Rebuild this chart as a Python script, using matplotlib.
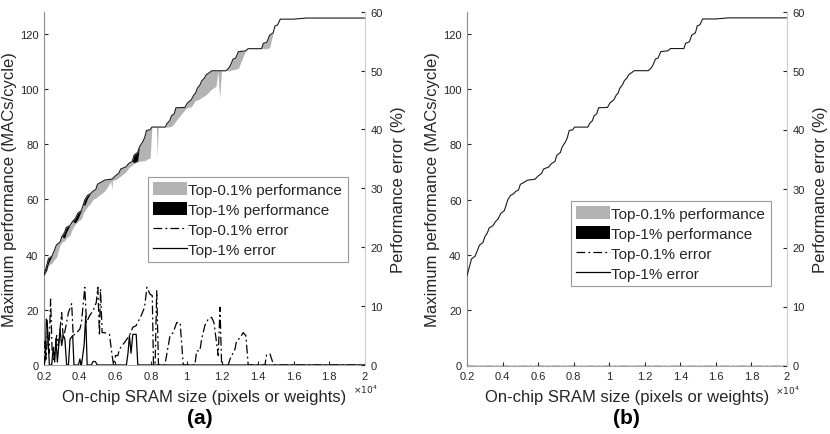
import numpy as np
import matplotlib.pyplot as plt
from matplotlib.patches import Patch
from matplotlib.lines import Line2D
from matplotlib.ticker import FuncFormatter

plt.rcParams['font.family'] = ['Liberation Sans', 'DejaVu Sans']
plt.rcParams['mathtext.fontset'] = 'dejavusans'

# on-chip SRAM size (pixels or weights) and best performance (MACs/cycle)
sram = [2000, 2150, 2250, 2450, 2550, 2700, 2900, 3000, 3150, 3250,
        3450, 3600, 3750, 3900, 4100, 4200, 4300, 4450, 4600, 4750,
        4900, 5000, 5200, 5400, 5750, 5800, 5850, 6000, 6200, 6300,
        6600, 6750, 6950, 7050, 7250, 7350, 7550, 7650, 7750, 7950,
        8050, 8300, 8350, 8400, 8800, 8900, 9050, 9150, 9300, 9400,
        9900, 10050, 10250, 10400, 10500, 10600, 10750, 10850, 11000, 11100,
        11250, 11400, 11650, 11750, 11850, 11950, 12200, 12350, 12450, 12600,
        12750, 12900, 13300, 13450, 14200, 14300, 14500, 14650, 14850, 14950,
        15100, 15250, 16000, 16700, 20000]
max_perf = [32.5, 36.0, 38.5, 39.5, 41.0, 43.5, 44.5, 46.5, 48.0, 49.8,
            50.5, 52.0, 53.0, 55.0, 56.0, 58.0, 60.0, 61.5, 62.0, 63.0,
            63.5, 65.5, 66.2, 67.0, 67.3, 67.3, 67.5, 68.5, 69.5, 71.0,
            71.8, 73.0, 73.8, 76.0, 77.0, 79.0, 81.0, 82.5, 85.0, 85.2,
            86.2, 86.2, 86.2, 86.2, 86.2, 87.5, 88.5, 90.3, 91.0, 93.2,
            93.3, 95.0, 96.0, 97.8, 98.5, 100.3, 101.5, 103.0, 104.0, 105.2,
            105.8, 106.6, 106.6, 106.6, 106.6, 106.6, 106.6, 107.5, 108.5, 110.8,
            111.2, 113.5, 113.8, 114.6, 114.6, 116.5, 117.0, 119.5, 120.3, 122.8,
            123.2, 125.3, 125.3, 125.7, 125.7]
# lower edge of the top-0.1% and top-1% performance bands (panel a)
top01_perf = [32.5, 34.0, 36.0, 37.0, 38.0, 39.0, 43.5, 44.5, 45.0, 46.0,
              47.0, 49.5, 51.0, 52.0, 53.0, 55.0, 56.0, 57.5, 58.5, 60.0,
              60.5, 61.0, 62.0, 63.0, 66.5, 63.5, 67.0, 67.0, 68.0, 68.5,
              70.0, 71.5, 72.5, 73.0, 73.5, 73.8, 74.0, 74.0, 74.5, 75.0,
              86.2, 86.2, 75.5, 86.2, 86.2, 86.2, 86.3, 86.5, 87.5, 88.5,
              92.5, 93.3, 93.5, 95.0, 96.0, 96.0, 96.5, 97.0, 97.5, 98.0,
              99.0, 100.0, 101.0, 106.6, 96.5, 106.6, 106.6, 106.6, 106.8, 107.0,
              107.2, 107.5, 113.8, 114.6, 114.6, 114.6, 114.6, 115.0, 120.3, 122.8,
              123.2, 125.3, 125.3, 125.7, 125.7]
top1_perf = [32.5, 34.5, 37.0, 39.5, 41.0, 43.5, 44.5, 46.5, 46.0, 48.0,
             50.5, 52.0, 51.5, 53.0, 56.0, 58.0, 58.0, 60.5, 62.0, 63.0,
             63.5, 65.5, 66.2, 67.0, 67.3, 67.3, 67.5, 68.5, 69.5, 71.0,
             71.8, 73.0, 73.8, 73.3, 74.0, 79.0, 81.0, 82.5, 85.0, 85.2,
             86.2, 86.2, 86.2, 86.2, 86.2, 87.5, 88.5, 90.3, 91.0, 93.2,
             93.3, 95.0, 96.0, 97.8, 98.5, 100.3, 101.5, 103.0, 104.0, 105.2,
             105.8, 106.6, 106.6, 106.6, 106.6, 106.6, 106.6, 107.5, 108.5, 110.8,
             111.2, 113.5, 113.8, 114.6, 114.6, 116.5, 117.0, 119.5, 120.3, 122.8,
             123.2, 125.3, 125.3, 125.7, 125.7]

# performance error (%) of the top-0.1% set (panel a)
err01_sram = [2000, 2060, 2120, 2200, 2280, 2370, 2460, 2560, 2710, 2800,
              2900, 2990, 3080, 3270, 3370, 3550, 3640, 3830, 4010, 4100,
              4290, 4380, 4560, 4750, 4930, 5020, 5110, 5170, 5260, 5390,
              5670, 5820, 5900, 6010, 6140, 6230, 6510, 6790, 6980, 7170,
              7450, 7640, 7770, 7950, 8070, 8140, 8230, 8320, 8420, 8780,
              9060, 9240, 9440, 9630, 9810, 10460, 10560, 10740, 10840, 11020,
              11210, 11400, 11530, 11770, 11870, 11960, 12330, 12430, 12710, 12800,
              12990, 13170, 13320, 13450, 14390, 14480, 14670, 14820, 14950, 20000]
err01 = [0.0, 4.0, 1.0, 5.5, 2.0, 11.2, 2.0, 0.9, 5.0, 3.3,
         6.1, 8.9, 4.4, 7.2, 8.9, 10.4, 5.0, 5.5, 6.1, 7.2,
         13.2, 7.2, 8.4, 9.2, 10.6, 13.2, 5.0, 12.9, 5.5, 5.5,
         5.2, 1.6, 0.0, 1.6, 1.6, 2.7, 3.8, 5.0, 6.4, 6.7,
         8.4, 9.8, 13.2, 12.0, 11.8, 0.0, 0.0, 12.6, 0.0, 0.0,
         4.9, 5.5, 7.2, 7.2, 0.0, 0.0, 2.4, 2.4, 4.4, 6.7,
         7.8, 8.1, 7.2, 1.6, 9.8, 0.0, 0.0, 1.0, 2.7, 4.1,
         4.6, 5.5, 5.0, 0.0, 0.0, 1.7, 1.9, 0.5, 0.0, 0.0]
# performance error (%) of the top-1% set (panel a)
err1_sram = [2000, 2080, 2130, 2180, 2300, 2430, 2520, 2600, 2670, 2750,
             2820, 2900, 2990, 3080, 3170, 3270, 3370, 3460, 3610, 3680,
             3930, 4010, 4100, 4250, 4340, 4420, 4660, 4750, 4880, 4980,
             6620, 6710, 6790, 6880, 6980, 7170, 7260, 20000]
err1 = [0.0, 1.0, 7.8, 7.5, 0.0, 0.0, 3.0, 0.5, 4.5, 0.5,
        3.0, 6.1, 3.3, 5.0, 4.4, 0.0, 0.0, 4.4, 5.0, 0.0,
        0.0, 1.0, 0.0, 3.4, 8.3, 0.0, 0.0, 0.6, 0.6, 0.0,
        0.0, 2.0, 5.0, 2.0, 5.2, 5.2, 0.0, 0.0]

# panel b: both top sets hit the best design, errors are zero
zero_sram = [2000, 20000]
zero_err = [0.0, 0.0]

labels = ['Top-0.1% performance', 'Top-1% performance',
          'Top-0.1% error', 'Top-1% error']
dashdot = (0, (7, 2.5, 1.5, 2.5))
txt = '#262626'

fig = plt.figure(figsize=(8.3, 4.35), dpi=100)
ax_a = fig.add_axes([44/830, 1-366/435, 321/830, 353.3/435])
ax_b = fig.add_axes([467/830, 1-366.5/435, 320/830, 354/435])


def draw(ax, low01, low1, e01x, e01, e1x, e1, leg_xy, tag, tag_x):
    ax.fill_between(sram, low01, max_perf, color='#b3b3b3', lw=0, zorder=1)
    ax.fill_between(sram, low1, max_perf, color='black', lw=0, zorder=2)
    ax.plot(sram, max_perf, color='#1a1a1a', lw=0.8, zorder=3)
    ax.set_xlim(2000, 20000)
    ax.set_ylim(0, 128)
    ax.set_xticks(np.arange(2000, 20001, 2000))
    ax.xaxis.set_major_formatter(FuncFormatter(lambda v, p: f'{v/1e4:g}'))
    ax.set_yticks(range(0, 121, 20))
    ax.tick_params(direction='in', length=3, labelsize=8, colors=txt,
                   pad=4)
    ax.spines['top'].set_visible(False)
    ax.spines['right'].set_visible(False)
    ax.spines['left'].set_color('#8c8c8c')
    ax.spines['bottom'].set_color('#a6a6a6')
    ax.set_xlabel('On-chip SRAM size (pixels or weights)', fontsize=12,
                  color=txt, labelpad=6)
    ax.set_ylabel('Maximum performance (MACs/cycle)', fontsize=12,
                  color=txt, labelpad=2)
    ax.text(0.962, -0.068, r'$\times10^{4}$', transform=ax.transAxes,
            fontsize=6.5, color=txt, ha='left', va='center')

    ax2 = ax.twinx()
    ax2.plot(e01x, e01, color='black', lw=0.9, linestyle=dashdot)
    ax2.plot(e1x, e1, color='black', lw=0.9)
    ax2.set_ylim(0, 60)
    ax2.set_xlim(2000, 20000)
    ax2.set_yticks(range(0, 61, 10))
    ax2.tick_params(direction='in', length=3, labelsize=8, colors=txt,
                    pad=4)
    for s in ['top', 'left', 'bottom']:
        ax2.spines[s].set_visible(False)
    ax2.spines['right'].set_color('#cccccc')
    ax2.set_ylabel('Performance error (%)', fontsize=12, color=txt,
                   labelpad=6)

    handles = [Patch(facecolor='#b3b3b3', edgecolor='none'),
               Patch(facecolor='black', edgecolor='none'),
               Line2D([], [], color='black', lw=0.9, linestyle=dashdot),
               Line2D([], [], color='black', lw=0.9)]
    leg = ax2.legend(handles, labels, loc='lower left', bbox_to_anchor=leg_xy,
                     borderaxespad=0, fontsize=11, frameon=True, fancybox=False,
                     handlelength=2.2, handleheight=0.95, handletextpad=0.1,
                     labelspacing=0.33, borderpad=0.35)
    leg.get_frame().set_edgecolor('#808080')
    leg.get_frame().set_linewidth(0.8)
    for t in leg.get_texts():
        t.set_color(txt)
    fig.text(tag_x, 1-419/435, tag, fontsize=15, fontweight='bold',
             ha='center', va='center')


draw(ax_a, top01_perf, top1_perf, err01_sram, err01, err1_sram, err1,
     (0.324, 0.2915), '(a)', 200/830)
draw(ax_b, max_perf, max_perf, zero_sram, zero_err, zero_sram, zero_err,
     (0.325, 0.225), '(b)', 626/830)

plt.savefig('out.png', dpi=100)
